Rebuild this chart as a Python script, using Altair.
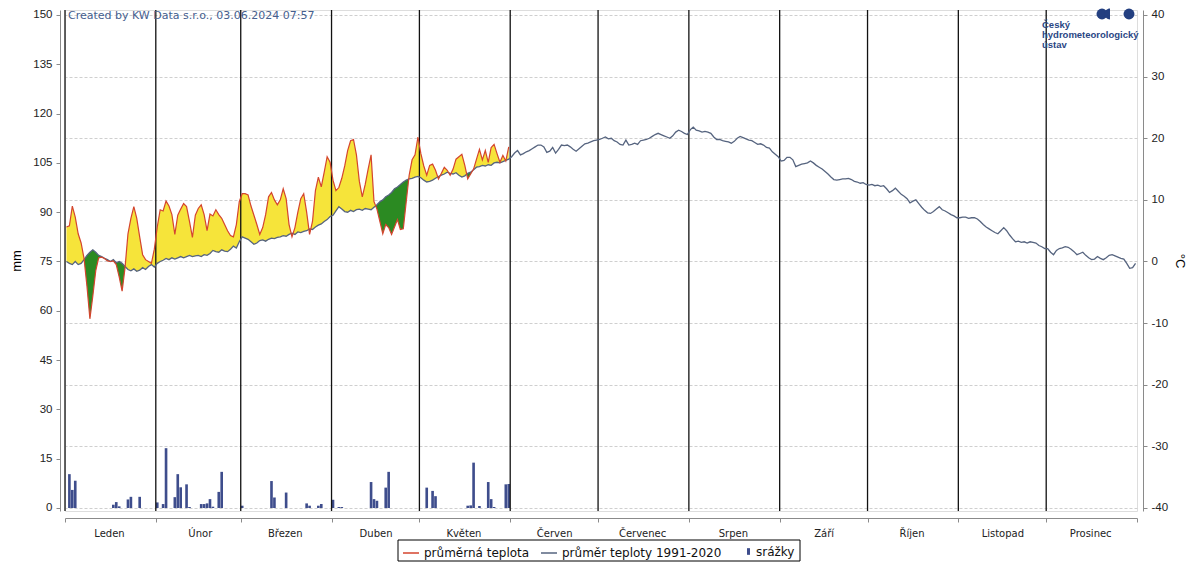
import altair as alt
import pandas as pd

MONTHS = ["Leden", "Únor", "Březen", "Duben", "Květen", "Červen", "Červenec",
          "Srpen", "Září", "Říjen", "Listopad", "Prosinec"]
MONTH_DAYS = [31, 29, 31, 30, 31, 30, 31, 31, 30, 31, 30, 31]

# daily mean temperature 2024 (°C)
TEMP_JAN = [5.6, 5.8, 9.0, 7.2, 4.5, 3.0, 0.5, -4.0, -9.3, -5.6, -1.5, 0.6, 0.7, 0.5, 0.1,
            0.0, 0.1, -0.5, -2.5, -4.8, -1.0, 4.5, 7.0, 8.9, 7.0, 4.0, 1.1, 0.3, 0.0, -0.3, 2.0]
TEMP_FEB = [5.6, 8.4, 8.2, 9.8, 9.0, 7.6, 4.4, 7.5, 8.5, 9.4, 8.9, 6.5, 3.9, 7.5, 8.6,
            9.2, 7.6, 5.0, 7.7, 7.4, 8.4, 7.6, 7.0, 6.0, 5.0, 4.2, 4.0, 6.0, 9.7]
TEMP_MAR = [11.0, 11.0, 10.8, 9.0, 7.5, 6.0, 4.4, 5.5, 7.6, 10.5, 11.2, 10.0, 9.2, 10.0, 11.8,
            10.2, 6.0, 4.0, 5.5, 8.0, 10.2, 11.0, 8.0, 4.4, 6.5, 11.5, 13.7, 12.1, 14.5, 17.0, 16.1]
TEMP_APR = [13.2, 11.5, 12.0, 13.5, 15.5, 18.0, 19.6, 19.8, 17.3, 13.0, 10.5, 12.5, 15.0, 17.3, 9.7,
            8.5, 6.5, 4.5, 6.0, 5.5, 4.4, 5.6, 6.8, 5.2, 5.3, 9.7, 14.0, 16.5, 17.3, 20.2]
TEMP_MAY = [17.5, 15.5, 14.0, 15.6, 15.8, 14.8, 13.4, 14.3, 15.3, 14.8, 14.0, 15.0, 16.6, 17.0, 17.4,
            15.6, 13.4, 14.2, 15.0, 16.6, 18.2, 16.5, 18.0, 16.1, 18.5, 19.0, 17.5, 16.1, 17.2, 16.3, 18.6]

# daily normal 1991-2020 (°C)
NORM_JAN = [0.0, -0.3, -0.5, 0.0, -0.5, -0.3, 0.3, 1.0, 1.5, 1.9, 1.5, 1.0, 0.8, 0.5, 0.3, 0.0,
            0.3, -0.2, 0.0, -0.3, -0.8, -1.3, -1.5, -1.2, -1.6, -1.4, -1.0, -1.3, -0.8, -0.5, -0.9]
NORM_FEB = [-0.3, 0.0, 0.2, 0.5, 0.3, 0.6, 0.4, 0.6, 0.8, 0.6, 0.8, 1.0, 0.8, 0.9, 1.0, 0.8,
            1.1, 1.0, 1.3, 1.8, 1.6, 1.5, 1.9, 1.7, 1.6, 2.0, 2.5, 2.2, 3.2]
NORM_MAR = [4.0, 3.8, 3.6, 3.2, 2.8, 3.0, 3.4, 3.5, 3.3, 3.6, 3.8, 3.7, 3.9, 4.0, 4.2, 4.1,
            4.4, 4.6, 4.4, 4.8, 4.7, 4.9, 5.0, 5.3, 5.2, 5.6, 5.9, 6.1, 6.5, 6.8, 7.3]
NORM_APR = [7.5, 8.2, 8.9, 8.5, 8.1, 8.0, 8.3, 8.1, 8.4, 8.5, 8.3, 8.6, 8.5, 8.4, 8.8, 9.2,
            9.7, 10.0, 10.5, 10.8, 11.2, 11.8, 12.1, 12.5, 12.9, 13.2, 13.4, 13.5, 13.7, 13.8]
NORM_MAY = [13.6, 13.2, 12.9, 13.0, 13.2, 13.5, 13.8, 14.0, 14.2, 14.5, 14.3, 14.2, 14.4, 14.0, 13.7,
            13.9, 14.3, 14.5, 14.9, 15.3, 15.4, 15.6, 15.5, 15.7, 15.6, 16.0, 16.1, 16.0, 16.2, 16.4, 16.6]
NORM_JUN = [17.0, 17.6, 18.0, 17.3, 17.5, 17.8, 18.0, 18.3, 18.6, 18.9, 18.9, 18.6, 17.7, 17.9, 18.5,
            17.6, 18.2, 18.9, 18.8, 18.9, 18.6, 18.2, 17.9, 18.3, 18.7, 19.1, 19.2, 19.4, 19.6, 19.7]
NORM_JUL = [19.8, 20.0, 20.2, 19.9, 20.0, 19.6, 19.4, 19.0, 18.9, 19.7, 18.9, 19.0, 19.2, 19.0, 19.6,
            19.7, 19.8, 20.0, 20.3, 20.6, 20.8, 20.6, 20.4, 20.2, 20.0, 20.4, 21.0, 21.3, 21.1, 20.8, 20.6]
NORM_AUG = [21.4, 21.8, 21.3, 21.2, 21.0, 21.1, 21.0, 20.8, 20.2, 19.8, 19.8, 19.6, 19.5, 19.4, 19.2,
            19.5, 20.0, 20.3, 20.1, 19.9, 19.7, 19.6, 19.3, 19.0, 19.1, 18.9, 18.5, 18.4, 17.8, 17.4, 17.0]
NORM_SEP = [16.3, 16.4, 16.9, 16.9, 16.5, 15.4, 15.6, 15.8, 15.9, 16.0, 16.3, 16.0, 15.6, 15.3, 15.0,
            14.6, 14.2, 13.7, 13.3, 13.2, 13.3, 13.4, 13.4, 13.5, 13.3, 13.0, 12.9, 12.7, 12.8, 12.5]
NORM_OCT = [12.4, 12.5, 12.3, 12.4, 12.2, 12.3, 11.8, 11.2, 11.5, 11.9, 11.4, 10.9, 10.6, 10.2, 9.5,
            9.8, 10.0, 9.4, 8.8, 8.3, 7.9, 7.8, 8.1, 8.5, 8.9, 8.4, 8.2, 7.9, 7.6, 7.4, 7.1]
NORM_NOV = [7.1, 7.2, 7.2, 7.0, 7.1, 7.1, 6.9, 6.5, 6.0, 5.6, 5.3, 5.0, 4.7, 4.5, 5.0,
            5.5, 5.0, 4.3, 3.7, 3.2, 3.3, 3.1, 3.2, 3.0, 3.2, 3.1, 3.0, 2.6, 2.4, 2.1]
NORM_DEC = [2.1, 1.5, 1.1, 1.8, 2.1, 2.2, 2.4, 2.3, 2.0, 1.6, 1.1, 1.3, 1.5, 1.0, 0.6, 0.3,
            0.4, 0.8, 0.5, 0.3, 0.6, 1.0, 1.1, 0.9, 0.7, 0.5, 0.4, -0.3, -1.1, -1.0, -0.3]

# daily precipitation (mm): day of year (0 = 1 Jan) and amount
PRECIP_DAYS = [1, 2, 3, 16, 17, 18, 21, 22, 25, 31, 33, 34, 37, 38, 39, 41, 42, 46, 47, 48, 49, 50,
               52, 53, 60, 70, 71, 75, 82, 83, 86, 87, 91, 93, 94, 104, 105, 106, 109, 110, 123, 125,
               126, 137, 138, 139, 141, 144, 145, 146, 150, 151]
PRECIP_MM = [10.3, 5.5, 8.3, 1.0, 1.8, 0.5, 2.6, 3.4, 3.4, 1.7, 1.2, 18.2, 3.3, 10.3, 6.3, 7.2, 0.3,
             1.2, 1.2, 1.4, 2.7, 0.4, 4.9, 11.0, 0.7, 8.2, 3.2, 4.7, 1.4, 0.7, 0.7, 1.2, 2.5, 0.3, 0.3,
             7.9, 2.7, 2.2, 6.2, 11.0, 6.2, 5.2, 3.6, 0.7, 0.8, 13.8, 0.6, 7.9, 2.7, 0.3, 7.2, 7.3]

MM_TICKS = list(range(0, 151, 15))
C_TICKS = list(range(-40, 41, 10))
LINE_SERIES = ["průměrná teplota", "průměr teploty 1991-2020"]
LINE_COLORS = ["#d4452e", "#56647f"]
BAR_SERIES = ["srážky"]
BAR_COLORS = ["#3e4d8c"]
CREDIT = "Created by KW Data s.r.o., 03.06.2024 07:57"
LOGO = ["Český", "hydrometeorologický", "ústav"]

W, H = 1072, 501

temps = TEMP_JAN + TEMP_FEB + TEMP_MAR + TEMP_APR + TEMP_MAY
norms = (NORM_JAN + NORM_FEB + NORM_MAR + NORM_APR + NORM_MAY + NORM_JUN + NORM_JUL
         + NORM_AUG + NORM_SEP + NORM_OCT + NORM_NOV + NORM_DEC)

month_starts = [0]
for m in MONTH_DAYS[:-1]:
    month_starts.append(month_starts[-1] + m)
n_days = sum(MONTH_DAYS)

# actual vs normal, with crossing points inserted so fills split cleanly
rows = []
for i in range(len(temps)):
    a0, n0 = temps[i], norms[i]
    rows.append((i + 0.5, a0, n0))
    if i + 1 < len(temps):
        a1, n1 = temps[i + 1], norms[i + 1]
        d0, d1 = a0 - n0, a1 - n1
        if d0 * d1 < 0:
            t = d0 / (d0 - d1)
            v = a0 + t * (a1 - a0)
            rows.append((i + 0.5 + t, v, v))
fill_df = pd.DataFrame(rows, columns=["x", "a", "n"])
fill_df["hi"] = fill_df[["a", "n"]].max(axis=1)
fill_df["lo"] = fill_df[["a", "n"]].min(axis=1)

act_df = pd.DataFrame({"x": [i + 0.5 for i in range(len(temps))], "t": temps, "s": LINE_SERIES[0]})
norm_df = pd.DataFrame({"x": [i + 0.5 for i in range(n_days)], "t": norms, "s": LINE_SERIES[1]})
bar_df = pd.DataFrame({"x0": [d + 0.05 for d in PRECIP_DAYS], "x1": [d + 0.95 for d in PRECIP_DAYS],
                       "mm": PRECIP_MM, "s": BAR_SERIES[0]})
rule_df = pd.DataFrame({"x": month_starts})

label_arr = "[" + ",".join("'" + m + "'" for m in MONTHS) + ",'']"
val_arr = "[" + ",".join(str(v) for v in month_starts + [n_days]) + "]"

X_AXIS = alt.Axis(values=month_starts + [n_days], title=None, grid=False, offset=7, tickSize=4,
                  labelExpr=f"{label_arr}[indexof({val_arr}, datum.value)]",
                  labelOffset=44, labelFlush=False, labelOverlap=False, labelBound=False,
                  labelFont="DejaVu Sans", labelFontSize=10, labelColor="#222",
                  domainColor="#8a8a8a", tickColor="#8a8a8a", labelPadding=6)
X_SCALE = alt.Scale(domain=[0, n_days], nice=False, zero=False)

T_SCALE = alt.Scale(domain=[-40.487, 40.811], nice=False, zero=False)
T_AXIS = alt.Axis(orient="right", values=C_TICKS, title="°C", grid=True, gridDash=[3, 2],
                  gridColor="#cfcfcf", offset=6, tickSize=4, labelExpr="datum.value + ''",
                  labelFont="Liberation Sans", labelFontSize=11.5, labelColor="#222",
                  domainColor="#8a8a8a", tickColor="#8a8a8a", titleFontWeight="normal",
                  titleFont="Liberation Sans", titleFontSize=13, titlePadding=5, labelPadding=4)
MM_SCALE = alt.Scale(domain=[-0.913, 151.52], nice=False, zero=False)
MM_AXIS = alt.Axis(orient="left", values=MM_TICKS, title="mm", grid=False, offset=5, tickSize=4,
                   labelFont="Liberation Sans", labelFontSize=11.5, labelColor="#222",
                   domainColor="#8a8a8a", tickColor="#8a8a8a", titleFontWeight="normal",
                   titleFont="Liberation Sans", titleFontSize=13, titlePadding=9, labelPadding=4)

COLOR_SCALE = alt.Scale(domain=LINE_SERIES, range=LINE_COLORS)
FILL_SCALE = alt.Scale(domain=BAR_SERIES, range=BAR_COLORS)
BAR_PATH = "M-0.2,-0.45L0.2,-0.45L0.2,0.45L-0.2,0.45Z"
LEG_COMMON = dict(title=None, orient="none", direction="horizontal", padding=0,
                  labelFont="DejaVu Sans", labelFontSize=12, labelColor="#111",
                  columnPadding=8, labelLimit=300)
LINE_LEGEND = alt.Legend(legendX=337, legendY=534, symbolType="stroke", symbolSize=256,
                         symbolStrokeWidth=1.5, labelOffset=4, **LEG_COMMON)
BAR_LEGEND = alt.Legend(legendX=676, legendY=534, symbolType=BAR_PATH, symbolSize=220,
                        symbolStrokeWidth=0, labelOffset=0, **LEG_COMMON)

box = alt.Chart(pd.DataFrame({"k": [0]})).mark_rect(fill="white", stroke="black", strokeWidth=1).encode(
    x=alt.value(333), x2=alt.value(735), y=alt.value(530), y2=alt.value(551))

bars = alt.Chart(bar_df).mark_bar(strokeWidth=0).encode(
    x=alt.X("x0:Q", scale=X_SCALE, axis=X_AXIS),
    x2="x1:Q",
    y=alt.Y("mm:Q", scale=MM_SCALE, axis=MM_AXIS),
    y2=alt.datum(0),
    fill=alt.Fill("s:N", scale=FILL_SCALE, legend=BAR_LEGEND),
)

yellow = alt.Chart(fill_df).mark_area(color="#f6e43a", opacity=1).encode(
    x=alt.X("x:Q", scale=X_SCALE, axis=X_AXIS),
    y=alt.Y("hi:Q", scale=T_SCALE, axis=T_AXIS),
    y2="n:Q",
)
green = alt.Chart(fill_df).mark_area(color="#2b8a22", opacity=1).encode(
    x=alt.X("x:Q", scale=X_SCALE, axis=X_AXIS),
    y=alt.Y("lo:Q", scale=T_SCALE, axis=T_AXIS),
    y2="n:Q",
)
rules = alt.Chart(rule_df).mark_rule(color="#111", strokeWidth=1.3).encode(
    x=alt.X("x:Q", scale=X_SCALE, axis=X_AXIS),
    y=alt.value(0), y2=alt.value(H),
)
norm_line = alt.Chart(norm_df).mark_line(strokeWidth=1.3).encode(
    x=alt.X("x:Q", scale=X_SCALE, axis=X_AXIS),
    y=alt.Y("t:Q", scale=T_SCALE, axis=T_AXIS),
    color=alt.Color("s:N", scale=COLOR_SCALE, legend=LINE_LEGEND),
)
act_line = alt.Chart(act_df).mark_line(strokeWidth=1.2).encode(
    x=alt.X("x:Q", scale=X_SCALE, axis=X_AXIS),
    y=alt.Y("t:Q", scale=T_SCALE, axis=T_AXIS),
    color=alt.Color("s:N", scale=COLOR_SCALE, legend=LINE_LEGEND),
)

one = pd.DataFrame({"k": [0]})
credit = alt.Chart(one).mark_text(text=CREDIT, align="left", baseline="middle", font="DejaVu Sans",
                                  fontSize=11, color="#46608f").encode(x=alt.value(3), y=alt.value(6))
logo_txt = [
    alt.Chart(one).mark_text(text=t, align="left", baseline="middle", font="Liberation Sans",
                             fontSize=9.5, fontWeight="bold", color="#2a4684").encode(
        x=alt.value(977), y=alt.value(15 + 10 * k))
    for k, t in enumerate(LOGO)
]
logo_dots = [
    alt.Chart(one).mark_point(filled=True, size=120, opacity=1, color="#233f80", shape=shp).encode(
        x=alt.value(px), y=alt.value(4))
    for px, shp in [(1037, "circle"), (1045, "M0,-1A1,1 0 0,0 0,1Z"), (1064, "circle")]
]

temp_group = alt.layer(yellow, green, rules, norm_line, act_line)
chart = alt.layer(alt.layer(bars), temp_group, box, credit, *logo_txt, *logo_dots).resolve_scale(
    y="independent"
).properties(
    width=W, height=H,
    autosize=alt.AutoSizeParams(type="none"),
    padding={"left": 57, "top": 2, "right": 53, "bottom": 54},
).configure_view(stroke="#a8a8a8", strokeWidth=1).configure(font="Liberation Sans")

chart.save("out.html", embed_options={"renderer": "svg", "actions": False})
